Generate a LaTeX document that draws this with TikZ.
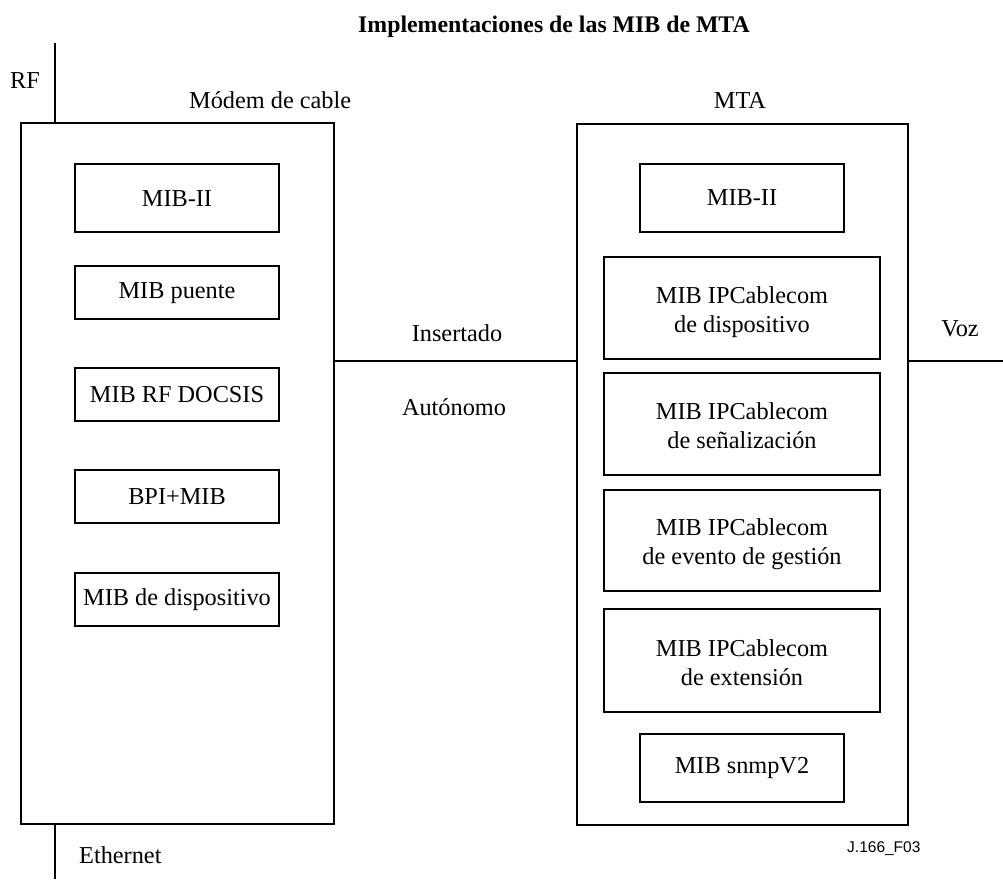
\documentclass[tikz,border=0pt]{standalone}
\usepackage{fontspec}
\setmainfont{Liberation Serif}
\newfontfamily\labsans{Liberation Sans}
\begin{document}
\begin{tikzpicture}[x=1pt,y=-1pt,
  txt/.style={inner sep=0pt,font=\fontsize{24.3}{29}\selectfont},
  lab/.style={txt,anchor=base},
  outerbox/.style={draw,line width=1.1pt,minimum width=#1,minimum height=701pt,inner sep=0pt},
  mibbox/.style={draw,line width=1.1pt,inner sep=0pt},
  wire/.style={line width=1.1pt}]
\useasboundingbox (0,0) rectangle (1003,879);
% title
\node[txt,anchor=base west,font=\bfseries\fontsize{23.8}{28}\selectfont] (title) at (358,32) {Implementaciones de las MIB de MTA};
% outer boxes
\node[outerbox=313pt] (lb) at (177.5,473.5) {};
\node[outerbox=331pt] (rb) at (742.5,474.5) {};
% left inner boxes
\node[mibbox,minimum width=204pt,minimum height=68pt] (l1) at (177,198) {};
\node[mibbox,minimum width=204pt,minimum height=53pt] (l2) at (177,292.5) {};
\node[mibbox,minimum width=204pt,minimum height=53pt] (l3) at (177,394.5) {};
\node[mibbox,minimum width=204pt,minimum height=53pt] (l4) at (177,496.5) {};
\node[mibbox,minimum width=204pt,minimum height=53pt] (l5) at (177,599.5) {};
\node[lab,yshift=-8pt] (l1t) at (l1.center) {MIB-II};
\node[lab,yshift=-6pt] (l2t) at (l2.center) {MIB puente};
\node[lab,yshift=-7.5pt] (l3t) at (l3.center) {MIB RF DOCSIS};
\node[lab,yshift=-7.5pt] (l4t) at (l4.center) {BPI+MIB};
\node[lab,yshift=-6pt] (l5t) at (l5.center) {MIB de dispositivo};
% right inner boxes
\node[mibbox,minimum width=204pt,minimum height=68pt] (r1) at (742,198) {};
\node[mibbox,minimum width=276pt,minimum height=102pt] (r2) at (742,308) {};
\node[mibbox,minimum width=276pt,minimum height=102pt] (r3) at (742,424) {};
\node[mibbox,minimum width=276pt,minimum height=101pt] (r4) at (742,540.5) {};
\node[mibbox,minimum width=276pt,minimum height=103pt] (r5) at (742,660.5) {};
\node[mibbox,minimum width=204pt,minimum height=68pt] (r6) at (742,768) {};
\node[lab,yshift=-7.5pt] (r1t) at (r1.center) {MIB-II};
\node[lab,yshift=4.5pt] (r2a) at (r2.center) {MIB IPCablecom};
\node[lab,yshift=-24.5pt] (r2b) at (r2.center) {de dispositivo};
\node[lab,yshift=5pt] (r3a) at (r3.center) {MIB IPCablecom};
\node[lab,yshift=-24pt] (r3b) at (r3.center) {de señalización};
\node[lab,yshift=5pt] (r4a) at (r4.center) {MIB IPCablecom};
\node[lab,yshift=-23.5pt] (r4b) at (r4.center) {de evento de gestión};
\node[lab,yshift=4pt] (r5a) at (r5.center) {MIB IPCablecom};
\node[lab,yshift=-25pt] (r5b) at (r5.center) {de extensión};
\node[lab,yshift=-5.5pt] (r6t) at (r6.center) {MIB snmpV2};
% labels
\node[txt,anchor=base west] (rf) at (10,88) {RF};
\node[txt,anchor=base west] (cm) at (189,108) {Módem de cable};
\node[lab] (mta) at (740,108) {MTA};
\node[lab] (ins) at (457,341) {Insertado};
\node[lab] (aut) at (454,415) {Autónomo};
\node[lab] (voz) at (960,336) {Voz};
\node[txt,anchor=base west] (eth) at (79,863) {Ethernet};
\node[inner sep=0pt,anchor=base west,font=\labsans\fontsize{15.5}{18}\selectfont] (fig) at (847,852) {J.166\_F03};
% connectors
\coordinate (rftop) at (55,43);
\coordinate (ethbot) at (55,879);
\coordinate (mid) at (455,361);
\coordinate (vozend) at (1003,361);
\draw[wire] (rftop) -- (rftop |- lb.north);
\draw[wire] (ethbot |- lb.south) -- (ethbot);
\draw[wire] (lb.east |- mid) -- (rb.west |- mid);
\draw[wire] (rb.east |- mid) -- (vozend);
\end{tikzpicture}
\end{document}
